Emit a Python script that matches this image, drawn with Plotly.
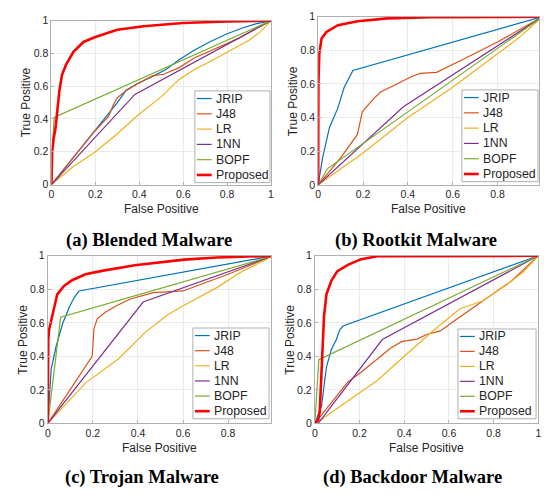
import plotly.graph_objects as go

W, H = 544, 495

METHODS = ["JRIP", "J48", "LR", "1NN", "BOPF", "Proposed"]
COLORS = ["#0072BD", "#D95319", "#EDB120", "#7E2F8E", "#77AC30", "#FF0000"]
CAPTIONS = ["(a) Blended Malware", "(b) Rootkit Malware", "(c) Trojan Malware", "(d) Backdoor Malware"]
TICK_VALS = [0, 0.2, 0.4, 0.6, 0.8, 1]
TICK_TEXT = ["0", "0.2", "0.4", "0.6", "0.8", "1"]
X_TITLE = "False Positive"
Y_TITLE = "True Positive"

# ---------- (a) Blended Malware ----------
A_JRIP_X = [0, 0.1, 0.2, 0.3, 0.34, 0.39, 0.46, 0.52, 0.58, 0.65, 0.72, 0.8, 0.87, 0.93, 1]
A_JRIP_Y = [0, 0.165, 0.33, 0.50, 0.575, 0.615, 0.66, 0.70, 0.76, 0.82, 0.87, 0.92, 0.955, 0.98, 1]
A_J48_X = [0, 0.1, 0.2, 0.26, 0.28, 0.3, 0.34, 0.39, 0.46, 0.51, 0.58, 0.65, 0.75, 0.85, 0.93, 1]
A_J48_Y = [0, 0.165, 0.33, 0.415, 0.48, 0.53, 0.573, 0.613, 0.663, 0.673, 0.712, 0.772, 0.83, 0.89, 0.95, 1]
A_LR_X = [0, 0.1, 0.2, 0.3, 0.4, 0.5, 0.58, 0.65, 0.75, 0.83, 0.9, 0.95, 1]
A_LR_Y = [0, 0.11, 0.2, 0.31, 0.43, 0.535, 0.64, 0.70, 0.77, 0.83, 0.88, 0.93, 1]
A_1NN_X = [0, 0.38, 1]
A_1NN_Y = [0, 0.55, 1]
A_BOPF_X = [0, 0.004, 0.012, 1]
A_BOPF_Y = [0, 0.22, 0.41, 1]
A_PROP_X = [0, 0.003, 0.01, 0.018, 0.026, 0.036, 0.048, 0.066, 0.1, 0.146, 0.2, 0.3, 0.42, 0.6, 0.8, 1]
A_PROP_Y = [0, 0.2, 0.28, 0.34, 0.44, 0.57, 0.67, 0.73, 0.81, 0.87, 0.90, 0.945, 0.966, 0.986, 0.995, 1]

# ---------- (b) Rootkit Malware ----------
B_JRIP_X = [0, 0.02, 0.05, 0.087, 0.116, 0.138, 0.155, 1]
B_JRIP_Y = [0, 0.164, 0.34, 0.455, 0.58, 0.64, 0.68, 1]
B_J48_X = [0, 0.1, 0.175, 0.197, 0.248, 0.278, 0.351, 0.41, 0.454, 0.528, 0.645, 0.8, 1]
B_J48_Y = [0, 0.16, 0.30, 0.436, 0.513, 0.552, 0.60, 0.64, 0.663, 0.669, 0.746, 0.85, 1]
B_LR_X = [0, 0.2, 0.4, 0.6, 0.8, 0.9, 1]
B_LR_Y = [0, 0.19, 0.40, 0.58, 0.78, 0.88, 1]
B_1NN_X = [0, 0.38, 1]
B_1NN_Y = [0, 0.464, 1]
B_BOPF_X = [0, 0.042, 1]
B_BOPF_Y = [0, 0.097, 1]
B_PROP_X = [0, 0.001, 0.005, 0.015, 0.037, 0.088, 0.176, 0.31, 0.5, 0.7, 1]
B_PROP_Y = [0, 0.6, 0.78, 0.87, 0.91, 0.95, 0.973, 0.99, 0.997, 1, 1]

# ---------- (c) Trojan Malware ----------
C_JRIP_X = [0, 0.015, 0.037, 0.066, 0.095, 0.117, 0.139, 1]
C_JRIP_Y = [0, 0.324, 0.46, 0.596, 0.693, 0.751, 0.79, 1]
C_J48_X = [0, 0.197, 0.205, 0.22, 0.256, 0.307, 0.366, 0.468, 0.60, 0.8, 1]
C_J48_Y = [0, 0.40, 0.567, 0.625, 0.664, 0.703, 0.742, 0.78, 0.79, 0.89, 1]
C_LR_X = [0, 0.167, 0.313, 0.43, 0.53, 0.605, 0.75, 0.854, 1]
C_LR_Y = [0, 0.24, 0.384, 0.54, 0.646, 0.705, 0.81, 0.9, 1]
C_1NN_X = [0, 0.423, 1]
C_1NN_Y = [0, 0.724, 1]
C_BOPF_X = [0, 0.057, 1]
C_BOPF_Y = [0, 0.633, 1]
C_PROP_X = [0, 0.002, 0.006, 0.02, 0.042, 0.072, 0.108, 0.167, 0.24, 0.386, 0.605, 0.75, 1]
C_PROP_Y = [0, 0.5, 0.56, 0.646, 0.77, 0.82, 0.854, 0.89, 0.91, 0.944, 0.977, 0.99, 1]

# ---------- (d) Backdoor Malware ----------
D_JRIP_X = [0, 0.03, 0.037, 0.052, 0.074, 0.096, 0.111, 0.126, 1]
D_JRIP_Y = [0, 0.103, 0.179, 0.336, 0.441, 0.499, 0.557, 0.581, 1]
D_J48_X = [0, 0.148, 0.207, 0.28, 0.34, 0.39, 0.457, 0.50, 0.56, 0.62, 0.767, 0.88, 1]
D_J48_Y = [0, 0.247, 0.305, 0.383, 0.45, 0.489, 0.503, 0.53, 0.55, 0.608, 0.744, 0.85, 1]
D_LR_X = [0, 0.015, 0.133, 0.28, 0.4, 0.524, 0.649, 0.75, 0.85, 0.93, 1]
D_LR_Y = [0, 0.01, 0.12, 0.256, 0.40, 0.547, 0.684, 0.73, 0.82, 0.9, 1]
D_1NN_X = [0, 0.015, 0.302, 1]
D_1NN_Y = [0, 0, 0.50, 1]
D_BOPF_X = [0, 0.018, 1]
D_BOPF_Y = [0, 0.38, 1]
D_PROP_X = [0, 0.015, 0.022, 0.03, 0.041, 0.052, 0.074, 0.1, 0.148, 0.207, 0.28, 1]
D_PROP_Y = [0, 0.02, 0.07, 0.285, 0.635, 0.77, 0.85, 0.907, 0.946, 0.98, 0.997, 1]

PANEL_DATA = [
    [(A_JRIP_X, A_JRIP_Y), (A_J48_X, A_J48_Y), (A_LR_X, A_LR_Y), (A_1NN_X, A_1NN_Y), (A_BOPF_X, A_BOPF_Y), (A_PROP_X, A_PROP_Y)],
    [(B_JRIP_X, B_JRIP_Y), (B_J48_X, B_J48_Y), (B_LR_X, B_LR_Y), (B_1NN_X, B_1NN_Y), (B_BOPF_X, B_BOPF_Y), (B_PROP_X, B_PROP_Y)],
    [(C_JRIP_X, C_JRIP_Y), (C_J48_X, C_J48_Y), (C_LR_X, C_LR_Y), (C_1NN_X, C_1NN_Y), (C_BOPF_X, C_BOPF_Y), (C_PROP_X, C_PROP_Y)],
    [(D_JRIP_X, D_JRIP_Y), (D_J48_X, D_J48_Y), (D_LR_X, D_LR_Y), (D_1NN_X, D_1NN_Y), (D_BOPF_X, D_BOPF_Y), (D_PROP_X, D_PROP_Y)],
]

# ---------- layout (pixel geometry) ----------
BOXES = [
    (49, 271, 15, 183, 1.0),
    (318.7, 542, 11, 183.3, 0.985),
    (45.3, 270.7, 256, 427.7, 0.989),
    (315.3, 541.3, 256, 427.7, 1.0),
]
LEGENDS = [(194, 270, 87, 181), (464, 541, 86, 180), (192, 269, 330, 423), (460, 539, 331, 423)]
CAPTION_POS = [(147.5, 240), (418, 240), (140.5, 483), (414.5, 483)]

SANS = "Liberation Sans, Arial, Helvetica, sans-serif"
SERIF = "Liberation Serif, Times New Roman, serif"
AXCOL = "#b0b0b0"
TXTCOL = "#262626"


def px(x):
    return x / W


def py(y):
    return 1 - y / H


fig = go.Figure()
layout = dict(
    width=W, height=H, autosize=False,
    margin=dict(l=0, r=0, t=0, b=0),
    paper_bgcolor="white", plot_bgcolor="white",
    showlegend=False,
)
shapes, annotations = [], []

for i, (box, data) in enumerate(zip(BOXES, PANEL_DATA)):
    l, r, t, b, xmax = box
    sfx = "" if i == 0 else str(i + 1)
    for name, color, (xs, ys) in zip(METHODS, COLORS, data):
        fig.add_trace(go.Scatter(
            x=xs, y=ys, mode="lines", name=name,
            line=dict(color=color, width=2.6 if name == "Proposed" else 1.2),
            xaxis="x" + sfx, yaxis="y" + sfx, showlegend=False, hoverinfo="skip",
        ))
    common = dict(
        showgrid=True, gridcolor="#ebebeb", gridwidth=1,
        showline=True, linecolor=AXCOL, linewidth=1, mirror=True,
        ticks="inside", ticklen=3, tickcolor=AXCOL,
        tickvals=TICK_VALS, ticktext=TICK_TEXT,
        tickfont=dict(family=SANS, size=10.5, color=TXTCOL),
        zeroline=False, fixedrange=True,
    )
    layout["xaxis" + sfx] = dict(common, domain=[px(l), px(r)], range=[0, xmax],
                                 anchor="y" + sfx)
    layout["yaxis" + sfx] = dict(common, domain=[py(b), py(t)], range=[0, 1],
                                 anchor="x" + sfx)
    annotations.append(dict(text=X_TITLE, xref="paper", yref="paper",
                            x=px((l + r) / 2), y=py(b + 25), showarrow=False,
                            xanchor="center", yanchor="middle",
                            font=dict(family=SANS, size=12, color=TXTCOL)))
    annotations.append(dict(text=Y_TITLE, xref="paper", yref="paper",
                            x=px(l - 26), y=py((t + b) / 2), showarrow=False,
                            textangle=-90, xanchor="center", yanchor="middle",
                            font=dict(family=SANS, size=12, color=TXTCOL)))
    cx, cy = CAPTION_POS[i]
    annotations.append(dict(text="<b>" + CAPTIONS[i] + "</b>", xref="paper", yref="paper",
                            x=px(cx), y=py(cy), showarrow=False,
                            xanchor="center", yanchor="middle",
                            font=dict(family=SERIF, size=18.5, color="black")))
    ll, lr, lt, lb = LEGENDS[i]
    shapes.append(dict(type="rect", xref="paper", yref="paper",
                       x0=px(ll), x1=px(lr), y0=py(lb), y1=py(lt),
                       fillcolor="white", line=dict(color=AXCOL, width=1), layer="above"))
    step = (lb - lt) / 6.0
    for k, (name, color) in enumerate(zip(METHODS, COLORS)):
        yc = lt + step * (k + 0.5)
        shapes.append(dict(type="line", xref="paper", yref="paper",
                           x0=px(ll + 2), x1=px(ll + 17), y0=py(yc), y1=py(yc),
                           line=dict(color=color, width=2.6 if name == "Proposed" else 1.2),
                           layer="above"))
        annotations.append(dict(text=name, xref="paper", yref="paper",
                                x=px(ll + 19), y=py(yc), showarrow=False,
                                xanchor="left", yanchor="middle",
                                font=dict(family=SANS, size=12.3, color=TXTCOL)))

layout["shapes"] = shapes
layout["annotations"] = annotations
fig.update_layout(**layout)
fig.write_html("out.html",
               config={"displayModeBar": False, "staticPlot": True},
               post_script="document.body.style.margin='0';document.body.style.padding='0';"
                           "document.documentElement.style.overflow='hidden';")
